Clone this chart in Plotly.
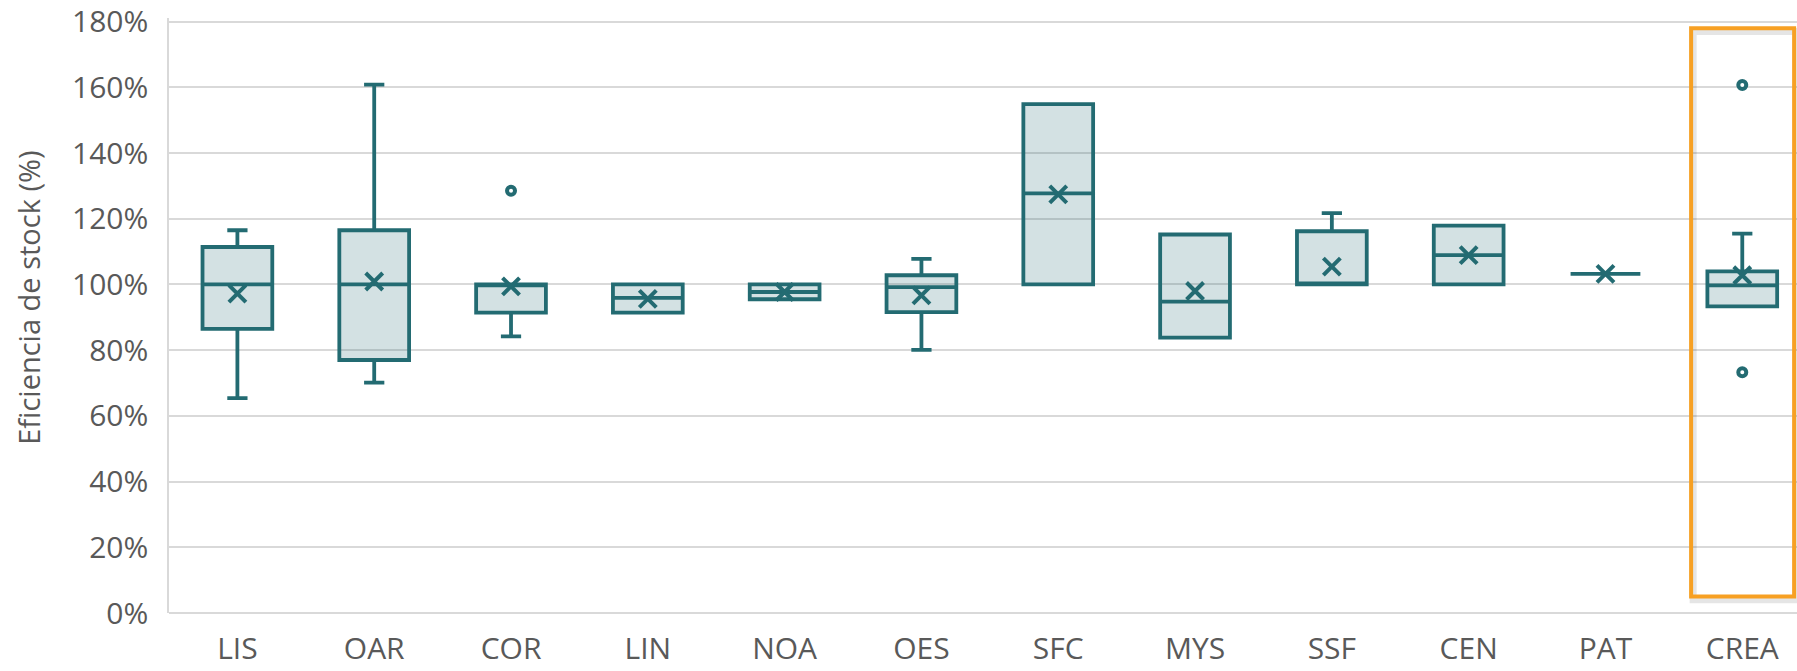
import plotly.graph_objects as go

# ---- data (fractions, 1.0 = 100%) ----
categories = ["LIS", "OAR", "COR", "LIN", "NOA", "OES", "SFC", "MYS", "SSF", "CEN", "PAT", "CREA"]
q1_vals     = [0.865, 0.770, 0.914, 0.914, 0.955, 0.916, 1.000, 0.838, 1.000, 1.000, 1.032, 0.933]
median_vals = [1.000, 1.000, 1.000, 0.959, 0.977, 0.992, 1.277, 0.948, 1.000, 1.089, 1.032, 0.997]
q3_vals     = [1.114, 1.165, 1.000, 1.000, 1.000, 1.028, 1.549, 1.152, 1.162, 1.179, 1.032, 1.040]
lower_vals  = [0.654, 0.701, 0.842, 0.914, 0.955, 0.801, 1.000, 0.838, 1.000, 1.000, 1.032, 0.933]
upper_vals  = [1.165, 1.608, 1.000, 1.000, 1.000, 1.078, 1.549, 1.152, 1.217, 1.179, 1.032, 1.155]
mean_vals   = [0.972, 1.009, 0.994, 0.956, 0.977, 0.967, 1.274, 0.980, 1.054, 1.089, 1.032, 1.028]
outlier_cats = ["COR", "CREA", "CREA"]
outlier_vals = [1.285, 1.607, 0.733]
y_ticks = [0, 0.2, 0.4, 0.6, 0.8, 1.0, 1.2, 1.4, 1.6, 1.8]
y_ticktext = ["0%", "20%", "40%", "60%", "80%", "100%", "120%", "140%", "160%", "180%"]
y_title = "Eficiencia de stock (%)"
highlight = "CREA"

TEAL = "#236B72"
FONT = "Open Sans"
GREY = "#595959"

fig = go.Figure()
fig.add_trace(go.Box(
    x=categories, q1=q1_vals, median=median_vals, q3=q3_vals,
    lowerfence=lower_vals, upperfence=upper_vals,
    boxpoints=False, width=0.51, whiskerwidth=0.29,
    line=dict(color=TEAL, width=3.8),
    fillcolor="rgba(35,107,114,0.2)",
    showlegend=False, hoverinfo="skip",
))
fig.add_trace(go.Scatter(
    x=categories, y=mean_vals, mode="markers",
    marker=dict(symbol="x-thin", size=17, line=dict(color=TEAL, width=4), color=TEAL),
    showlegend=False, hoverinfo="skip",
))
fig.add_trace(go.Scatter(
    x=outlier_cats, y=outlier_vals, mode="markers",
    marker=dict(symbol="circle", size=8, color="white", line=dict(color=TEAL, width=4)),
    showlegend=False, hoverinfo="skip",
))

hi = categories.index(highlight)
# highlight rectangle (shadow + orange frame)
fig.add_shape(type="rect", xref="x", yref="y",
              x0=hi - 0.374 + 0.015, x1=hi + 0.379 + 0.015, y0=0.05 - 0.01, y1=1.78 - 0.01,
              line=dict(color="rgba(0,0,0,0.10)", width=7), fillcolor="rgba(0,0,0,0)")
fig.add_shape(type="rect", xref="x", yref="y",
              x0=hi - 0.374, x1=hi + 0.379, y0=0.05, y1=1.78,
              line=dict(color="#F7A023", width=4), fillcolor="rgba(0,0,0,0)")

# y-axis title (placed slightly above the axis centre, as in the original)
fig.add_annotation(
    text=y_title, xref="paper", yref="paper", x=-0.0863, y=0.529,
    xanchor="center", yanchor="middle", textangle=-90, showarrow=False,
    font=dict(size=29, color=GREY, family=FONT),
)

fig.update_layout(
    width=1797, height=671,
    margin=dict(l=169, r=0, t=18, b=58, autoexpand=False),
    plot_bgcolor="white", paper_bgcolor="white",
    font=dict(family=FONT, color=GREY, size=30),
)
fig.update_xaxes(
    type="category", categoryorder="array", categoryarray=categories,
    range=[-0.5, 11.4], showgrid=False, showline=False, zeroline=False,
    automargin=False,
    ticks="", ticklabelstandoff=15, tickfont=dict(size=30, color=GREY, family=FONT),
)
fig.update_yaxes(
    range=[0, 1.811], tickvals=y_ticks, ticktext=y_ticktext,
    showgrid=True, gridcolor="#D9D9D9", gridwidth=1.5,
    showline=True, linecolor="#D9D9D9", linewidth=1.5,
    zeroline=True, zerolinecolor="#D9D9D9", zerolinewidth=1.5,
    automargin=False, ticklabeloverflow="allow",
    ticks="", ticklabelstandoff=13, tickfont=dict(size=30, color=GREY, family=FONT),
)

fig.write_html(
    "out.html",
    config={"displayModeBar": False},
    post_script="document.body.style.margin='0';document.body.style.overflow='hidden';",
)
